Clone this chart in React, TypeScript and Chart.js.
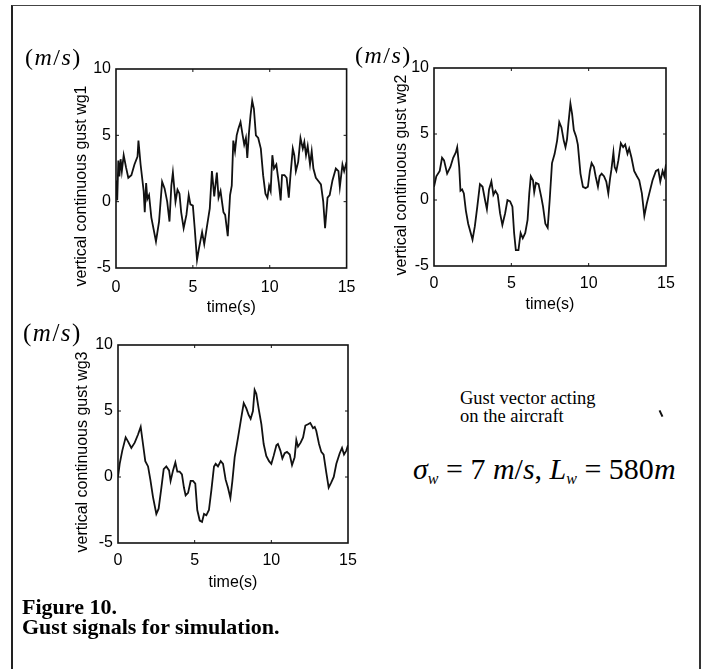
import React, { useEffect, useRef } from "react";
import { Chart, registerables } from "chart.js";
Chart.register(...registerables);

// ---------- data ----------
const xTickValues = [0, 5, 10, 15];
const yTickValues = [-5, 0, 5, 10];

const time1 = [
  0, 0.08, 0.15, 0.22, 0.3, 0.38, 0.5, 0.65, 0.8, 1.0,
  1.2, 1.4, 1.46, 1.6, 1.8, 1.87, 1.96, 2.04, 2.15, 2.3,
  2.6, 2.8, 3.0, 3.16, 3.33, 3.48, 3.6, 3.7, 3.87, 4.0,
  4.13, 4.24, 4.4, 4.58, 4.73, 4.84, 5.0, 5.12, 5.27, 5.4,
  5.6, 5.74, 5.9, 6.1, 6.24, 6.39, 6.56, 6.67, 6.8, 6.99,
  7.1, 7.27, 7.42, 7.53, 7.63, 7.74, 7.85, 7.96, 8.1, 8.24,
  8.34, 8.45, 8.54, 8.65, 8.75, 8.86, 8.97, 9.1, 9.25, 9.42,
  9.57, 9.72, 9.85, 9.96, 10.06, 10.17, 10.28, 10.43, 10.58, 10.71,
  10.8, 10.96, 11.1, 11.24, 11.35, 11.5, 11.6, 11.7, 11.85, 12.0,
  12.15, 12.25, 12.36, 12.47, 12.62, 12.73, 12.84, 13.0, 13.2, 13.33,
  13.48, 13.6, 13.76, 13.9, 14.08, 14.3, 14.47, 14.56, 14.73, 14.84,
  15,
];
const wg1 = [
  1.6, 0.1, 3.1, 1.9, 3.2, 2.3, 3.5, 2.6, 1.8, 2.0,
  2.8, 3.4, 4.6, 2.8, 0.8, -0.8, 1.4, 0.2, 0.5, -1.2,
  -3.0, -1.5, 1.5, 1.0, 0.0, -1.5, 1.2, 2.2, 0.0, 0.9,
  0.6, -0.8, -2.0, -1.0, 0.5, -0.2, -0.3, -2.0, -4.4, -3.5,
  -2.3, -3.2, -2.0, -0.5, 2.3, 0.4, 2.2, 0.3, 0.8, -0.8,
  -1.0, -2.6, 0.5, 1.2, 4.6, 3.8, 5.0, 5.5, 6.0, 5.0,
  4.3, 4.8, 3.3, 5.2, 6.5, 7.6, 7.0, 5.0, 4.8, 4.0,
  2.0, 0.6, 0.3, 1.2, 0.8, 3.5, 2.5, 2.8, 1.5, 0.1,
  2.0, 2.0, 1.8, 0.3, 2.0, 4.0, 3.5, 2.3, 3.0, 4.8,
  4.0, 4.5, 3.5, 4.2, 2.8, 3.8, 2.5, 1.8, 1.5, 1.3,
  0.0, -2.0, 0.3, 0.5, 1.6, 2.5, 2.3, 1.1, 2.8, 2.3,
  3.0,
];

const time2 = [
  0, 0.15, 0.37, 0.52, 0.65, 0.85, 1.06, 1.24, 1.41, 1.5,
  1.63, 1.71, 1.82, 1.93, 2.06, 2.21, 2.49, 2.64, 2.8, 2.97,
  3.14, 3.3, 3.42, 3.56, 3.71, 3.84, 3.97, 4.12, 4.27, 4.42,
  4.6, 4.75, 4.92, 5.07, 5.18, 5.29, 5.46, 5.6, 5.74, 5.9,
  6.05, 6.16, 6.26, 6.4, 6.48, 6.59, 6.76, 6.94, 7.05, 7.2,
  7.35, 7.48, 7.63, 7.8, 7.96, 8.1, 8.24, 8.39, 8.5, 8.6,
  8.69, 8.82, 8.93, 9.04, 9.19, 9.3, 9.47, 9.63, 9.8, 9.95,
  10.08, 10.19, 10.34, 10.45, 10.6, 10.71, 10.84, 10.99, 11.14, 11.27,
  11.38, 11.47, 11.6, 11.68, 11.79, 11.92, 12.08, 12.23, 12.36, 12.51,
  12.62, 12.77, 12.94, 13.12, 13.27, 13.44, 13.6, 13.75, 13.92, 14.13,
  14.35, 14.5, 14.63, 14.78, 14.89, 15.0,
];
const wg2 = [
  1.0, 1.8, 2.2, 3.2, 3.0, 2.0, 2.5, 3.2, 3.6, 4.0,
  2.5, 0.7, 0.8, 0.5, -0.8, -1.8, -3.0, -2.0, -0.5, 1.2,
  1.0, 0.0, -0.7, 0.8, 1.4, 0.4, 0.7, 0.4, -1.0, -1.9,
  -1.0, 0.0, -0.1, -0.5, -2.5, -3.8, -3.8, -2.5, -2.9, -2.5,
  -1.5, 0.5, 1.8, 1.5, 0.6, 1.3, 1.2, 0.2, -0.5, -1.8,
  -2.1, 0.0, 2.8, 3.5, 4.5, 5.9, 5.5, 4.5, 4.0, 4.6,
  5.8, 7.3, 6.5, 5.3, 4.8, 4.2, 2.0, 1.0, 0.9, 1.0,
  2.2, 2.8, 2.5, 1.8, 1.0, 1.8, 2.0, 1.8, 1.4, 0.5,
  1.6, 2.3, 3.6, 2.5, 2.2, 3.0, 4.3, 4.0, 4.2, 3.5,
  3.9, 3.2, 2.2, 1.8, 1.5, 0.5, -1.2, -0.3, 0.5, 1.5,
  2.2, 2.3, 1.4, 2.2, 1.8, 2.7,
];

const time3 = [
  0, 0.11, 0.28, 0.5, 0.65, 0.87, 1.09, 1.3, 1.48, 1.63,
  1.78, 1.96, 2.11, 2.28, 2.5, 2.65, 2.83, 2.98, 3.15, 3.33,
  3.43, 3.59, 3.74, 3.87, 4.02, 4.17, 4.3, 4.41, 4.57, 4.74,
  4.89, 5.04, 5.17, 5.33, 5.48, 5.61, 5.76, 5.93, 6.09, 6.26,
  6.37, 6.52, 6.7, 6.85, 7.02, 7.17, 7.33, 7.46, 7.61, 7.83,
  8.04, 8.2, 8.37, 8.52, 8.65, 8.8, 8.91, 9.02, 9.17, 9.35,
  9.5, 9.67, 9.85, 10.0, 10.15, 10.33, 10.43, 10.59, 10.72, 10.87,
  11.02, 11.2, 11.35, 11.52, 11.63, 11.74, 11.91, 12.07, 12.22, 12.39,
  12.54, 12.72, 12.83, 12.93, 13.11, 13.26, 13.41, 13.59, 13.74, 13.91,
  14.07, 14.24, 14.46, 14.61, 14.74, 14.89, 15.0,
];
const wg3 = [
  0.0, 1.0, 2.0, 3.0, 2.7, 2.2, 2.6, 3.2, 3.8, 2.5,
  1.2, 0.8, -0.2, -1.5, -2.8, -2.4, -0.8, 0.6, 0.8, 0.5,
  -0.3, 0.5, 1.1, 0.4, 0.4, 0.2, -0.8, -1.4, -1.2, -0.3,
  -0.3, -0.5, -2.5, -3.3, -3.4, -2.8, -2.9, -2.5, -1.0, 0.8,
  1.0, 0.8, 1.2, 1.0, -0.2, -0.8, -1.6, -0.3, 1.5, 3.0,
  4.5, 5.6, 5.2, 4.7, 4.4, 5.0, 6.6, 6.3, 5.2, 4.0,
  2.5, 1.6, 1.2, 1.0, 1.6, 2.4, 2.5, 2.0, 1.4, 1.8,
  1.9, 1.7, 0.9, 1.5, 2.8, 2.3, 2.6, 3.0, 3.9, 4.0,
  4.1, 3.7, 3.8, 3.5, 2.5, 1.9, 1.7, 0.3, -0.8, -0.4,
  0.0, 1.0, 1.8, 2.2, 1.7, 2.0, 2.4,
];

const xTitle = "time(s)";
const yTitles = [
  "vertical continuous gust wg1",
  "vertical continuous gust wg2",
  "vertical continuous gust wg3",
];

// ---------- styling ----------
const SANS = "'Liberation Sans', Arial, Helvetica, sans-serif";
const SERIF = "'Liberation Serif', 'Times New Roman', Times, serif";

type Panel = {
  plot: [number, number, number, number];
  yTitleX: number;
  yTitleY: number;
  xTitleY: number;
  xTickPad: number;
  t: number[];
  v: number[];
  yTitle: string;
};

const panels: Panel[] = [
  { plot: [116, 69, 348, 268], yTitleX: 82, yTitleY: 186, xTitleY: 308, xTickPad: 9.5, t: time1, v: wg1, yTitle: yTitles[0] },
  { plot: [434, 68, 666, 266], yTitleX: 402, yTitleY: 175, xTitleY: 305, xTickPad: 7.5, t: time2, v: wg2, yTitle: yTitles[1] },
  { plot: [118, 345, 348, 543], yTitleX: 83, yTitleY: 452, xTitleY: 583, xTickPad: 7.5, t: time3, v: wg3, yTitle: yTitles[2] },
];

const framePlugin = {
  id: "matlabFrame",
  afterDatasetsDraw(chart: any) {
    const { ctx, chartArea, scales } = chart;
    const { left, top, right, bottom } = chartArea;
    ctx.save();
    ctx.strokeStyle = "#111";
    ctx.lineWidth = 1.6;
    ctx.strokeRect(left, top, right - left, bottom - top);
    ctx.lineWidth = 1;
    const tl = 3;
    scales.x.ticks.forEach((tk: any) => {
      if (tk.value <= 0 || tk.value >= 15) return;
      const px = scales.x.getPixelForValue(tk.value);
      ctx.beginPath();
      ctx.moveTo(px, bottom);
      ctx.lineTo(px, bottom - tl);
      ctx.moveTo(px, top);
      ctx.lineTo(px, top + tl);
      ctx.stroke();
    });
    scales.y.ticks.forEach((tk: any) => {
      if (tk.value <= -5 || tk.value >= 10) return;
      const py = scales.y.getPixelForValue(tk.value);
      ctx.beginPath();
      ctx.moveTo(left, py);
      ctx.lineTo(left + tl, py);
      ctx.moveTo(right, py);
      ctx.lineTo(right - tl, py);
      ctx.stroke();
    });
    ctx.restore();
  },
  afterDraw(chart: any, _args: any, opts: any) {
    if (!opts || !opts.text) return;
    const { ctx } = chart;
    ctx.save();
    ctx.translate(opts.x, opts.y);
    ctx.rotate(-Math.PI / 2);
    ctx.textAlign = "center";
    ctx.textBaseline = "middle";
    ctx.font = `16px ${SANS}`;
    ctx.fillStyle = "#000";
    ctx.fillText(opts.text, 0, 0);
    ctx.restore();
  },
};

function GustPanel({ p }: { p: Panel }) {
  const ref = useRef<HTMLCanvasElement>(null);
  const [x1, y1, x2, y2] = p.plot;
  const left = p.yTitleX - 20;
  const top = y1 - 20;
  const right = x2 + 17;
  const bottom = p.xTitleY + 12;
  const w = right - left;
  const h = bottom - top;

  useEffect(() => {
    if (!ref.current) return;
    const n = Math.min(p.t.length, p.v.length);
    const pts = [];
    for (let i = 0; i < n; i++) pts.push({ x: p.t[i], y: p.v[i] });
    const chart = new Chart(ref.current, {
      type: "line",
      data: {
        datasets: [
          {
            data: pts,
            borderColor: "#111",
            borderWidth: 1.8,
            pointRadius: 0,
            tension: 0,
            fill: false,
          },
        ],
      },
      options: {
        animation: false,
        responsive: false,
        devicePixelRatio: 1,
        parsing: false as any,
        layout: { padding: { left: 0, top: y1 - top, right: right - x2, bottom: 0 } },
        plugins: {
          legend: { display: false },
          tooltip: { enabled: false },
          matlabFrame: { text: p.yTitle, x: p.yTitleX - left, y: p.yTitleY - top },
        } as any,
        scales: {
          x: {
            type: "linear",
            min: 0,
            max: 15,
            afterBuildTicks: (s: any) => {
              s.ticks = xTickValues.map((v) => ({ value: v }));
            },
            afterFit: (s: any) => {
              s.height = bottom - y2;
            },
            grid: { display: false, drawTicks: false },
            border: { display: false },
            ticks: {
              padding: p.xTickPad,
              color: "#000",
              font: { family: SANS, size: 16 },
              maxRotation: 0,
              autoSkip: false,
            },
            title: {
              display: true,
              text: xTitle,
              color: "#000",
              font: { family: SANS, size: 16 },
              padding: { top: 0, bottom: 2.4 },
            },
          },
          y: {
            type: "linear",
            min: -5,
            max: 10,
            afterBuildTicks: (s: any) => {
              s.ticks = yTickValues.map((v) => ({ value: v }));
            },
            afterFit: (s: any) => {
              s.width = x1 - left;
            },
            grid: { display: false, drawTicks: false },
            border: { display: false },
            ticks: {
              padding: 5,
              color: "#000",
              font: { family: SANS, size: 16 },
              autoSkip: false,
            },
          },
        },
      } as any,
      plugins: [framePlugin as any],
    });
    return () => chart.destroy();
  }, []);

  return (
    <canvas
      ref={ref}
      width={w}
      height={h}
      style={{ position: "absolute", left, top, width: w, height: h }}
    />
  );
}

function Unit({ left, top, size }: { left: number; top: number; size: number }) {
  return (
    <div
      style={{
        position: "absolute",
        left,
        top,
        fontFamily: SERIF,
        fontSize: size,
        lineHeight: `${size}px`,
        whiteSpace: "nowrap",
        letterSpacing: 1.5,
        color: "#000",
      }}
    >
      (<i>m</i>/<i>s</i>)
    </div>
  );
}

export default function App() {
  return (
    <div
      style={{
        position: "absolute",
        left: 0,
        top: 0,
        width: 705,
        height: 669,
        overflow: "hidden",
        background: "#fff",
      }}
    >
      <div
        style={{
          position: "absolute",
          left: 11,
          top: 5,
          width: 686,
          height: 700,
          borderLeft: "2px solid #222",
          borderTop: "1px solid #444",
          borderRight: "2px solid #333",
        }}
      />
      {panels.map((p, i) => (
        <GustPanel key={i} p={p} />
      ))}
      <Unit left={25} top={45} size={24} />
      <Unit left={355} top={43} size={24} />
      <Unit left={23} top={320} size={25} />

      <div
        style={{
          position: "absolute",
          left: 460,
          top: 389,
          fontFamily: SERIF,
          fontSize: 18.5,
          lineHeight: "18px",
          color: "#000",
          whiteSpace: "nowrap",
        }}
      >
        Gust vector acting
        <br />
        on the aircraft
      </div>
      <div
        style={{
          position: "absolute",
          left: 660,
          top: 410,
          width: 2,
          height: 7,
          background: "#111",
          transform: "rotate(-25deg)",
        }}
      />
      <div
        style={{
          position: "absolute",
          left: 413,
          top: 454,
          fontFamily: SERIF,
          fontSize: 30,
          lineHeight: "30px",
          color: "#000",
          whiteSpace: "nowrap",
        }}
      >
        <i>σ</i>
        <sub style={{ fontSize: 16, verticalAlign: "-5px" }}>
          <i>w</i>
        </sub>
        {" = 7 "}
        <i>m</i>/<i>s</i>, <i>L</i>
        <sub style={{ fontSize: 16, verticalAlign: "-5px" }}>
          <i>w</i>
        </sub>
        {" = 580"}
        <i>m</i>
      </div>
      <div
        style={{
          position: "absolute",
          left: 22,
          top: 597,
          fontFamily: SERIF,
          fontWeight: "bold",
          fontSize: 22,
          lineHeight: "20px",
          color: "#000",
          whiteSpace: "nowrap",
        }}
      >
        Figure 10.
        <br />
        Gust signals for simulation.
      </div>
    </div>
  );
}
